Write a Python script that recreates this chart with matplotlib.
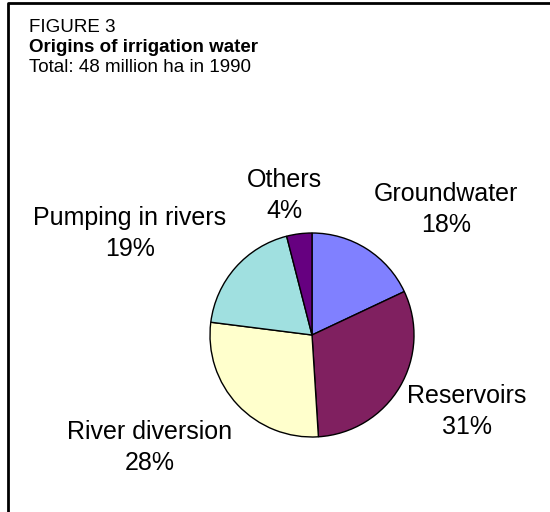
import numpy as np
import matplotlib.pyplot as plt

plt.rcParams['font.family'] = ['Liberation Sans', 'DejaVu Sans']

labels = ['Groundwater', 'Reservoirs', 'River diversion', 'Pumping in rivers', 'Others']
values = [18, 31, 28, 19, 4]
colors = ['#8080FF', '#802060', '#FFFFCC', '#A0E0E0', '#660080']
# label anchor in pixels: centre x, baseline of first line (from top)
label_pos = [(446, 201), (467, 403), (150, 439), (130, 225), (284, 187)]

W, H = 550, 512
fig = plt.figure(figsize=(W / 100, H / 100), dpi=100)
ax = fig.add_axes([0, 0, 1, 1])

# frame (top and left edges visible)
ax.plot([7.5, 7.5, W], [0, H - 3, H - 3], color='black', lw=2, solid_capstyle='butt')

ax.text(29, H - 32, 'FIGURE 3', fontsize=13.5, va='baseline', ha='left')
ax.text(29, H - 52, 'Origins of irrigation water', fontsize=13.5, fontweight='bold',
        va='baseline', ha='left')
ax.text(29, H - 72, 'Total: 48 million ha in 1990', fontsize=13.5, va='baseline', ha='left')

ax.pie(values, colors=colors, startangle=90, counterclock=False,
       center=(312, H - 335), radius=102, frame=True,
       wedgeprops=dict(edgecolor='black', linewidth=1))
ax.set_xlim(0, W)
ax.set_ylim(0, H)
ax.set_aspect('equal')
ax.axis('off')

for lab, v, (x, y) in zip(labels, values, label_pos):
    ax.text(x, H - y, lab, fontsize=18, ha='center', va='baseline')
    ax.text(x, H - y - 31.5, f'{v}%', fontsize=18, ha='center', va='baseline')

fig.savefig('out.png', dpi=100)
